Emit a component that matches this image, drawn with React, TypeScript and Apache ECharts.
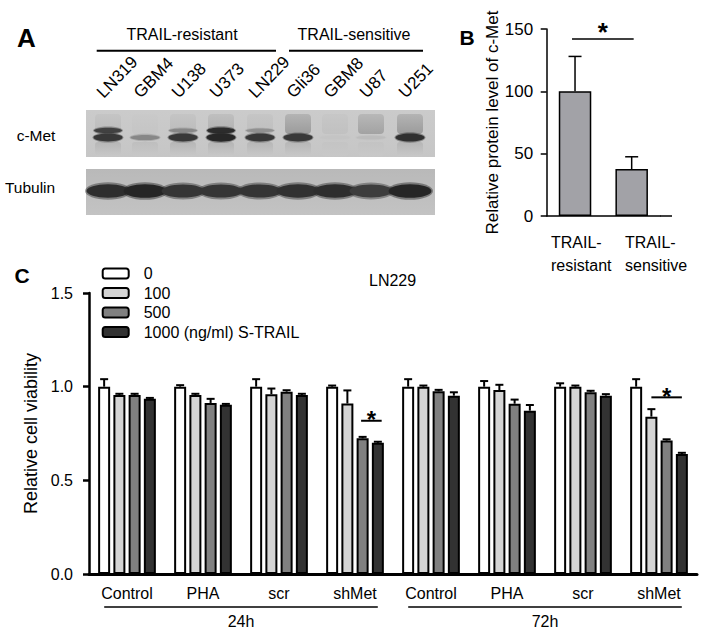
import React, { useEffect, useRef } from 'react';
import * as echarts from 'echarts';

const FONT = '"Liberation Sans", Arial, Helvetica, sans-serif';

// ---------- Panel A (western blot) ----------
const laneNames = ['LN319', 'GBM4', 'U138', 'U373', 'LN229', 'Gli36', 'GBM8', 'U87', 'U251'];
const cMetMainBand = [0.85, 0.4, 0.85, 0.95, 0.85, 0.85, 0.05, 0.1, 0.9];
const cMetUpperBand = [0.8, 0, 0.4, 0.92, 0.35, 0, 0, 0, 0];
const cMetSmear = [0.12, 0.05, 0.12, 0.2, 0.1, 0.35, 0.08, 0.3, 0.35];
const tubulinBand = [0.9, 0.95, 0.85, 0.85, 0.85, 0.88, 0.9, 0.8, 0.95];
const groupNamesA = ['TRAIL-resistant', 'TRAIL-sensitive'];
const blotRows = ['c-Met', 'Tubulin'];

// ---------- Panel B ----------
const categoriesB = ['TRAIL-\nresistant', 'TRAIL-\nsensitive'];
const valuesB = [100, 37.7];
const errorsB = [28, 9.8];
const sigB = [[0, 1, 142, 153]]; // from cat, to cat, line value, star value

// ---------- Panel C ----------
const times = ['24h', '72h'];
const conditions = ['Control', 'PHA', 'scr', 'shMet'];
const doses = ['0', '100', '500', '1000 (ng/ml) S-TRAIL'];
const viability0 = [1.0, 1.0, 1.0, 1.0, 1.0, 1.0, 1.0, 1.0];
const viability100 = [0.955, 0.955, 0.96, 0.91, 1.0, 0.982, 1.0, 0.84];
const viability500 = [0.955, 0.913, 0.973, 0.724, 0.975, 0.909, 0.97, 0.712];
const viability1000 = [0.935, 0.903, 0.955, 0.70, 0.952, 0.872, 0.952, 0.64];
const error0 = [0.04, 0.008, 0.04, 0.006, 0.04, 0.03, 0.018, 0.04];
const error100 = [0.007, 0.007, 0.03, 0.07, 0.006, 0.028, 0.006, 0.04];
const error500 = [0.007, 0.022, 0.008, 0.008, 0.008, 0.022, 0.008, 0.007];
const error1000 = [0.005, 0.005, 0.007, 0.006, 0.018, 0.03, 0.008, 0.007];
const sigC = [
  [3, 0.818, 1.9, 3.25, 0.859],
  [7, 0.943, 1, 3, 0.982],
]; // category, line value, from bar, to bar, star value
const timeSpans = [
  [0, 3, 0],
  [4, 7, 0],
];

// ---------- styling ----------
const doseColors = ['#ffffff', '#d4d4d4', '#808080', '#323232'];
const BAR_W = 12;
const BAR_GAP = 0.27;
const PITCH = BAR_W * (1 + BAR_GAP);

const laneCenters = [108, 145, 183, 221, 260, 298, 335, 371, 410];
const LABEL_ROT = 46;

function gray(d: number, base = 205) {
  const v = Math.max(0, Math.min(255, Math.round(base - d * (base - 30))));
  return `rgb(${v},${v},${v})`;
}

function blotGraphics(): any[] {
  const els: any[] = [];
  els.push({
    type: 'rect',
    shape: { x: 86, y: 110, width: 349, height: 47 },
    style: {
      fill: new echarts.graphic.LinearGradient(0, 0, 0, 1, [
        { offset: 0, color: '#cbcbcb' },
        { offset: 1, color: '#c6c6c6' },
      ]),
    },
    z: 1,
  });
  els.push({
    type: 'rect',
    shape: { x: 86, y: 169, width: 349, height: 46 },
    style: {
      fill: new echarts.graphic.LinearGradient(0, 0, 0, 1, [
        { offset: 0, color: '#b9b9b9' },
        { offset: 1, color: '#c3c3c3' },
      ]),
    },
    z: 1,
  });
  laneCenters.forEach((cx, i) => {
    if (cMetSmear[i] > 0) {
      els.push({
        type: 'rect',
        shape: { x: cx - 13, y: 114, width: 26, height: 20, r: 4 },
        style: {
          fill: new echarts.graphic.LinearGradient(0, 0, 0, 1, [
            { offset: 0, color: gray(cMetSmear[i] * 0.5) },
            { offset: 1, color: gray(cMetSmear[i]) },
          ]),
          opacity: 0.8,
        },
        z: 2,
      });
    }
    els.push({
      type: 'rect',
      shape: { x: cx - 13, y: 142, width: 26, height: 14, r: 3 },
      style: {
        fill: new echarts.graphic.LinearGradient(0, 0, 0, 1, [
          { offset: 0, color: gray(0.05 + cMetMainBand[i] * 0.12) },
          { offset: 1, color: '#c8c8c8' },
        ]),
        opacity: 0.8,
      },
      z: 2,
    });
    if (cMetUpperBand[i] > 0) {
      const u = cMetUpperBand[i];
      els.push({ type: 'ellipse', shape: { cx, cy: 130.5, rx: 15, ry: 2 + 2.5 * u }, style: { fill: gray(u), opacity: 0.4 }, z: 3 });
      els.push({ type: 'ellipse', shape: { cx, cy: 130.5, rx: 14, ry: 1.2 + 2 * u }, style: { fill: gray(u) }, z: 3 });
    }
    const m = cMetMainBand[i];
    els.push({ type: 'ellipse', shape: { cx, cy: 137.5, rx: 15.5, ry: 2.5 + 3 * m }, style: { fill: gray(m), opacity: 0.4 }, z: 4 });
    els.push({ type: 'ellipse', shape: { cx, cy: 137.5, rx: 14.5, ry: 1.5 + 2.8 * m }, style: { fill: gray(m) }, z: 4 });
    const t = tubulinBand[i];
    els.push({ type: 'ellipse', shape: { cx, cy: 191, rx: 23, ry: 6 + 3 * t }, style: { fill: gray(t, 185), opacity: 0.45 }, z: 3 });
    els.push({ type: 'ellipse', shape: { cx, cy: 191, rx: 21.5, ry: 4 + 3 * t }, style: { fill: gray(t, 185) }, z: 4 });
    els.push({
      type: 'text',
      x: cx - 2,
      y: 101,
      rotation: (LABEL_ROT * Math.PI) / 180,
      style: { text: laneNames[i], fontSize: 17, fontFamily: FONT, fill: '#000', align: 'left', verticalAlign: 'bottom' },
      z: 5,
    });
  });
  const spans = [
    [96.7, 276],
    [289, 423],
  ];
  groupNamesA.forEach((g, i) => {
    const [a, b] = spans[i];
    els.push({ type: 'line', shape: { x1: a, y1: 50.7, x2: b, y2: 50.7 }, style: { stroke: '#000', lineWidth: 2 } });
    els.push({
      type: 'text',
      x: i === 0 ? 182 : 354,
      y: 34.5,
      style: { text: g, fontSize: 16, fontFamily: FONT, fill: '#000', align: 'center', verticalAlign: 'middle' },
    });
  });
  els.push({ type: 'text', x: 36, y: 135, style: { text: blotRows[0], fontSize: 15.5, fontFamily: FONT, fill: '#000', align: 'center', verticalAlign: 'middle' } });
  els.push({ type: 'text', x: 30, y: 187, style: { text: blotRows[1], fontSize: 15.5, fontFamily: FONT, fill: '#000', align: 'center', verticalAlign: 'middle' } });
  return els;
}

function buildOption(): any {
  const catKeys: string[] = [];
  times.forEach((t) => conditions.forEach((c) => catKeys.push(`${t}|${c}`)));
  const viab = [viability0, viability100, viability500, viability1000];
  const errs = [error0, error100, error500, error1000];
  const errData: number[][] = [];
  viab.forEach((arr, s) => arr.forEach((v, c) => errData.push([c, s, v, errs[s][c]])));

  const letter = (t: string, x: number, y: number, size: number) => ({
    type: 'text',
    x,
    y,
    style: { text: t, fontSize: size, fontWeight: 'bold', fontFamily: FONT, fill: '#000', align: 'center', verticalAlign: 'middle' },
  });

  return {
    animation: false,
    backgroundColor: '#ffffff',
    textStyle: { fontFamily: FONT, color: '#000' },
    title: {
      text: 'LN229',
      left: 369,
      top: 272,
      padding: 0,
      textStyle: { fontSize: 16, fontWeight: 'normal', fontFamily: FONT, color: '#000' },
    },
    legend: {
      data: doses,
      orient: 'vertical',
      left: 101.7,
      top: 265.5,
      padding: 0,
      itemWidth: 26,
      itemHeight: 10,
      itemGap: 3.5,
      icon: 'roundRect',
      itemStyle: { borderColor: '#000', borderWidth: 2 },
      textStyle: { fontSize: 16, fontFamily: FONT, color: '#000', padding: [0, 0, 0, 10], lineHeight: 16 },
      selectedMode: false,
    },
    grid: [
      { left: 546.7, top: 29, width: 113.3, height: 187 },
      { left: 89, top: 293, width: 608, height: 281 },
    ],
    xAxis: [
      {
        type: 'category',
        gridIndex: 0,
        data: categoriesB,
        axisLine: { lineStyle: { color: '#000', width: 1.5 } },
        axisTick: { show: false },
        axisLabel: { show: false },
      },
      {
        type: 'category',
        gridIndex: 1,
        data: catKeys,
        axisLine: { lineStyle: { color: '#000', width: 3 } },
        axisTick: { show: false },
        axisLabel: {
          formatter: (v: string) => v.split('|')[1],
          fontSize: 16,
          fontFamily: FONT,
          color: '#000',
          margin: 11,
          interval: 0,
        },
      },
    ],
    yAxis: [
      {
        type: 'value',
        gridIndex: 0,
        min: 0,
        max: 150,
        interval: 50,
        name: 'Relative protein level of c-Met',
        nameLocation: 'middle',
        nameGap: 37,
        nameTextStyle: { fontSize: 17, fontFamily: FONT, color: '#000' },
        axisLine: { show: true, lineStyle: { color: '#000', width: 1.5 } },
        axisTick: { show: true, length: 6, lineStyle: { color: '#000', width: 1.5 } },
        axisLabel: { fontSize: 17, fontFamily: FONT, color: '#000', margin: 13.5 },
        splitLine: { show: false },
      },
      {
        type: 'value',
        gridIndex: 1,
        min: 0,
        max: 1.5,
        interval: 0.5,
        name: 'Relative cell viability',
        nameLocation: 'middle',
        nameGap: 36,
        nameTextStyle: { fontSize: 18, fontFamily: FONT, color: '#000' },
        axisLine: { show: true, lineStyle: { color: '#000', width: 2.5 } },
        axisTick: { show: true, length: 6, lineStyle: { color: '#000', width: 2.5 } },
        axisLabel: { fontSize: 16, fontFamily: FONT, color: '#000', margin: 16, formatter: (v: number) => v.toFixed(1) },
        splitLine: { show: false },
      },
    ],
    series: [
      {
        type: 'bar',
        name: 'B',
        xAxisIndex: 0,
        yAxisIndex: 0,
        data: valuesB,
        barWidth: 32.5,
        itemStyle: { color: '#a2a2a7', borderColor: '#000', borderWidth: 1.5 },
        z: 2,
      },
      {
        type: 'custom',
        name: 'B error',
        xAxisIndex: 0,
        yAxisIndex: 0,
        data: valuesB.map((v, i) => [i, v, errorsB[i]]),
        encode: { x: 0, y: 1 },
        z: 3,
        renderItem: (_p: any, api: any) => {
          const base = api.coord([api.value(0), api.value(1)]);
          const top = api.coord([api.value(0), api.value(1) + api.value(2)]);
          const x = base[0];
          return {
            type: 'group',
            children: [
              { type: 'line', shape: { x1: x, y1: base[1], x2: x, y2: top[1] }, style: { stroke: '#000', lineWidth: 1.5 } },
              { type: 'line', shape: { x1: x - 6.5, y1: top[1], x2: x + 6.5, y2: top[1] }, style: { stroke: '#000', lineWidth: 1.5 } },
            ],
          };
        },
      },
      {
        type: 'custom',
        name: 'B sig',
        xAxisIndex: 0,
        yAxisIndex: 0,
        data: sigB,
        encode: { x: [0, 1], y: [2, 3] },
        z: 3,
        renderItem: (_p: any, api: any) => {
          const a = api.coord([api.value(0), api.value(2)]);
          const b = api.coord([api.value(1), api.value(2)]);
          const s = api.coord([api.value(0), api.value(3)]);
          const x0 = a[0] - 3;
          const x1 = b[0] + 2;
          return {
            type: 'group',
            children: [
              { type: 'line', shape: { x1: x0, y1: a[1], x2: x1, y2: a[1] }, style: { stroke: '#000', lineWidth: 1.5 } },
              {
                type: 'text',
                x: (x0 + x1) / 2,
                y: s[1] + 6.5,
                style: { text: '*', fontSize: 26, fontWeight: 'bold', fontFamily: FONT, fill: '#000', align: 'center', verticalAlign: 'middle' },
              },
            ],
          };
        },
      },
      ...viab.map((arr, s) => ({
        type: 'bar',
        name: doses[s],
        xAxisIndex: 1,
        yAxisIndex: 1,
        data: arr,
        barWidth: BAR_W,
        barGap: `${BAR_GAP * 100}%`,
        itemStyle: { color: doseColors[s], borderColor: '#000', borderWidth: 2 },
        z: 2,
      })),
      {
        type: 'custom',
        name: 'C error',
        xAxisIndex: 1,
        yAxisIndex: 1,
        data: errData,
        encode: { x: 0, y: 2 },
        z: 3,
        renderItem: (_p: any, api: any) => {
          const cat = api.value(0);
          const s = api.value(1);
          const v = api.value(2);
          const e = api.value(3);
          const base = api.coord([cat, v]);
          const top = api.coord([cat, v + e]);
          const x = base[0] + (s - 1.5) * PITCH;
          return {
            type: 'group',
            children: [
              { type: 'line', shape: { x1: x, y1: base[1], x2: x, y2: top[1] }, style: { stroke: '#000', lineWidth: 2 } },
              { type: 'line', shape: { x1: x - 4, y1: top[1], x2: x + 4, y2: top[1] }, style: { stroke: '#000', lineWidth: 2 } },
            ],
          };
        },
      },
      {
        type: 'custom',
        name: 'C sig',
        xAxisIndex: 1,
        yAxisIndex: 1,
        data: sigC,
        encode: { x: 0, y: [1, 4] },
        z: 3,
        renderItem: (_p: any, api: any) => {
          const cat = api.value(0);
          const p = api.coord([cat, api.value(1)]);
          const s = api.coord([cat, api.value(4)]);
          const x0 = p[0] + (api.value(2) - 1.5) * PITCH;
          const x1 = p[0] + (api.value(3) - 1.5) * PITCH;
          return {
            type: 'group',
            children: [
              { type: 'line', shape: { x1: x0, y1: p[1], x2: x1, y2: p[1] }, style: { stroke: '#000', lineWidth: 2 } },
              {
                type: 'text',
                x: (x0 + x1) / 2,
                y: s[1] + 6,
                style: { text: '*', fontSize: 24, fontWeight: 'bold', fontFamily: FONT, fill: '#000', align: 'center', verticalAlign: 'middle' },
              },
            ],
          };
        },
      },
      {
        type: 'custom',
        name: 'C time groups',
        xAxisIndex: 1,
        yAxisIndex: 1,
        data: timeSpans,
        encode: { x: [0, 1], y: 2 },
        z: 3,
        renderItem: (p: any, api: any) => {
          const a = api.coord([api.value(0), api.value(2)]);
          const b = api.coord([api.value(1), api.value(2)]);
          const w = api.size([1, 0])[0];
          const x0 = a[0] - 0.3 * w;
          const x1 = b[0] + 0.3 * w;
          return {
            type: 'group',
            children: [
              { type: 'line', shape: { x1: x0, y1: a[1] + 33, x2: x1, y2: a[1] + 33 }, style: { stroke: '#000', lineWidth: 1.5 } },
              {
                type: 'text',
                x: (x0 + x1) / 2,
                y: a[1] + 47,
                style: { text: times[p.dataIndex], fontSize: 16, fontFamily: FONT, fill: '#000', align: 'center', verticalAlign: 'middle' },
              },
            ],
          };
        },
      },
    ],
    graphic: [
      letter('A', 26.5, 37.5, 26),
      letter('B', 467, 37.5, 21),
      letter('C', 22, 275, 21),
      ...blotGraphics(),
      { type: 'line', shape: { x1: 660, y1: 216, x2: 672, y2: 216 }, style: { stroke: '#000', lineWidth: 1.5 } },
      {
        type: 'text',
        x: 551,
        y: 230.5,
        style: { text: categoriesB[0], fontSize: 16, fontFamily: FONT, fill: '#000', align: 'left', verticalAlign: 'top', lineHeight: 23 },
      },
      {
        type: 'text',
        x: 625,
        y: 230.5,
        style: { text: categoriesB[1], fontSize: 16, fontFamily: FONT, fill: '#000', align: 'left', verticalAlign: 'top', lineHeight: 23 },
      },
    ],
  };
}

export default function App() {
  const ref = useRef<HTMLDivElement>(null);
  useEffect(() => {
    if (!ref.current) return;
    const chart = echarts.init(ref.current, null, { renderer: 'svg' });
    chart.setOption(buildOption());
    return () => chart.dispose();
  }, []);
  return (
    <div
      ref={ref}
      style={{ position: 'fixed', left: 0, top: 0, width: 701, height: 637, background: '#fff' }}
    />
  );
}
